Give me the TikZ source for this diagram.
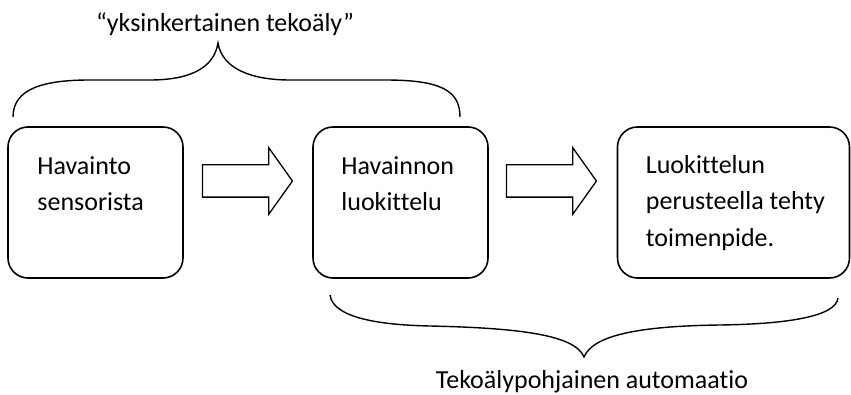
\documentclass[tikz,border=0pt]{standalone}
\usepackage{fontspec}
\setmainfont{Carlito}[Ligatures=NoCommon]
\usepackage{tikz}
\usetikzlibrary{calc,shapes.arrows}

\tikzset{
  stage/.style={draw, rounded corners=20pt, line width=1.6pt, minimum width=175pt, minimum height=151pt, inner sep=0pt},
  stagetext/.style={anchor=north west, align=left, inner sep=0pt, font=\fontsize{26}{36.5}\selectfont},
  flowarrow/.style={single arrow, draw, anchor=tail, line width=1.3pt, inner xsep=0pt, inner ysep=15.5pt, minimum height=90pt, single arrow head extend=17pt, single arrow tip angle=109},
  bracket/.style={line width=1.4pt},
  caption/.style={anchor=base, inner sep=0pt, font=\fontsize{26}{31}\selectfont}
}

\begin{document}
\begin{tikzpicture}[x=1pt,y=-1pt]
\useasboundingbox (0,0) rectangle (851,395);

% Stages
\node[stage] (b1) at (95.5,202.5) {};
\node[stage] (b2) at (400.5,202.5) {};
\node[stage, minimum width=232pt] (b3) at (733.5,202.5) {};

\node[stagetext] (t1) at ($(b1.north west)+(30,30)$) {Havainto\\sensorista};
\node[stagetext] (t2) at ($(b2.north west)+(29,30)$) {Havainnon\\luokittelu};
\node[stagetext] (t3) at ($(b3.north west)+(29,29)$) {Luokittelun\\perusteella tehty\\toimenpide.};

% Arrows between stages
\node[flowarrow] (a1) at ($(b1.east)+(18,-21.5)$) {};
\node[flowarrow] (a2) at ($(b2.east)+(17,-21.5)$) {};

% Upper brace
\draw[bracket] (13,117) .. controls (13,88) and (45,80) .. (90,80) -- (150,80)
  .. controls (190,80) and (214,68) .. (218,43)
  .. controls (222,68) and (250,80) .. (290,80) -- (385,80)
  .. controls (440,80) and (460,90) .. (460,117);
\node[caption] (c1) at (225,32) {“yksinkertainen tekoäly”};

% Lower brace
\draw[bracket] (330,295) .. controls (333,318) and (380,325) .. (430,326)
  .. controls (520,328) and (575,335) .. (584,357)
  .. controls (593,335) and (640,326) .. (720,325)
  .. controls (790,324) and (836,316) .. (838,298);
\node[caption] (c2) at (592,388.5) {Tekoälypohjainen automaatio};
\end{tikzpicture}
\end{document}
